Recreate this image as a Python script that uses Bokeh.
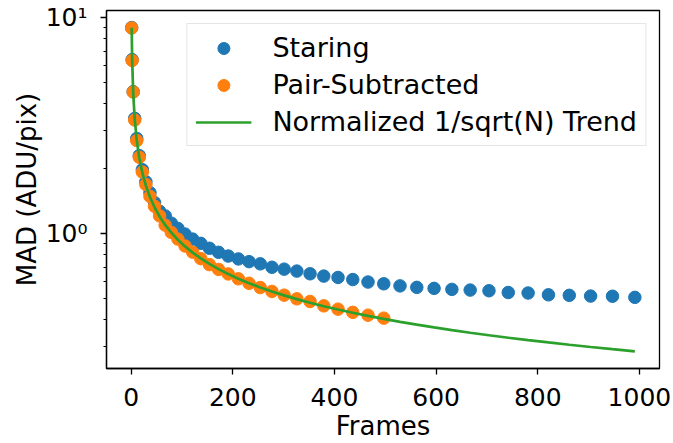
import numpy as np
from bokeh.plotting import figure
from bokeh.models import Range1d, FixedTicker, CustomJSTickFormatter
from bokeh.embed import file_html
from bokeh.resources import INLINE

# Frame counts (x positions of the points)
frames = [1, 2, 4, 7, 11, 16, 22, 29, 37, 46, 56, 67, 79, 92, 106, 121, 137,
          154, 172, 191, 211, 232, 254, 277, 301, 326, 352, 379, 407, 436, 466,
          497, 529, 562, 596, 631, 667, 704, 742, 781, 821, 862, 904, 947, 991]

# Staring MAD values
staring = [9.0, 6.4, 4.55, 3.42, 2.76, 2.3, 1.98, 1.74, 1.55, 1.394, 1.27,
           1.21, 1.12, 1.059, 0.997, 0.945, 0.903, 0.857, 0.821, 0.789, 0.765,
           0.743, 0.726, 0.700, 0.686, 0.672, 0.653, 0.637, 0.628, 0.614, 0.598,
           0.587, 0.574, 0.565, 0.559, 0.553, 0.549, 0.545, 0.535, 0.532, 0.522,
           0.519, 0.515, 0.514, 0.508]

# Pair-subtracted MAD values (first 32 frame counts)
pair_frames = frames[:32]
pair = [8.96, 6.34, 4.53, 3.36, 2.70, 2.26, 1.93, 1.69, 1.49, 1.34, 1.21,
        1.096, 1.015, 0.945, 0.878, 0.822, 0.767, 0.72, 0.684, 0.652, 0.619,
        0.59, 0.564, 0.541, 0.52, 0.50, 0.486, 0.464, 0.448, 0.433, 0.42, 0.407]

# Normalized 1/sqrt(N) trend, normalized to the first value
trend_norm = 9.0
trend = [trend_norm / np.sqrt(f) for f in frames]

x_ticks = [0, 200, 400, 600, 800, 1000]
y_major = [1, 10]
y_minor = [0.3, 0.4, 0.5, 0.6, 0.7, 0.8, 0.9, 2, 3, 4, 5, 6, 7, 8, 9]

FONT = "DejaVu Sans"

p = figure(width=673, height=443, y_axis_type="log",
           x_range=Range1d(-48.5, 1039.5), y_range=Range1d(0.238, 10.8),
           output_backend="svg", toolbar_location=None,
           min_border_left=106, min_border_right=14, min_border_top=10,
           min_border_bottom=73)

p.grid.visible = False
p.outline_line_color = "black"
p.outline_line_width = 1.3
p.background_fill_color = "white"
p.border_fill_color = "white"

p.scatter(frames, staring, size=12.5, color="#1f77b4", legend_label="Staring")
p.scatter(pair_frames, pair, size=12.5, color="#ff7f0e", legend_label="Pair-Subtracted")
p.line(frames, trend, line_width=2.7, color="#2ca02c",
       legend_label="Normalized 1/sqrt(N) Trend")

p.xaxis.ticker = FixedTicker(ticks=x_ticks, minor_ticks=[])
p.yaxis.ticker = FixedTicker(ticks=y_major, minor_ticks=y_minor)
p.yaxis.formatter = CustomJSTickFormatter(code="""
    if (tick >= 5) { return "10\u00b9"; }
    return "10\u2070";
""")

for ax in (p.xaxis, p.yaxis):
    ax.axis_line_color = "black"
    ax.axis_line_width = 1.3
    ax.major_tick_line_color = "black"
    ax.major_tick_line_width = 1.3
    ax.minor_tick_line_color = "black"
    ax.minor_tick_line_width = 1.0
    ax.major_tick_in = 0
    ax.major_tick_out = 6
    ax.minor_tick_in = 0
    ax.minor_tick_out = 3
    ax.major_label_text_font = FONT
    ax.major_label_text_font_size = "25px"
    ax.major_label_text_color = "black"
    ax.axis_label_text_font = FONT
    ax.axis_label_text_font_size = "26px"
    ax.axis_label_text_font_style = "normal"
    ax.axis_label_text_color = "black"

p.xaxis.axis_label = "Frames"
p.yaxis.axis_label = "MAD (ADU/pix)"
p.xaxis.major_label_standoff = 13
p.yaxis.major_label_standoff = 13
p.xaxis.axis_label_standoff = 2
p.yaxis.axis_label_standoff = 1

lg = p.legend[0]
lg.location = "top_right"
lg.margin = 13
lg.padding = 8
lg.spacing = 6
lg.glyph_width = 56
lg.glyph_height = 30
lg.label_height = 30
lg.label_standoff = 21
lg.label_text_font = FONT
lg.label_text_font_size = "27px"
lg.label_text_color = "black"
lg.border_line_color = "#cccccc"
lg.border_line_width = 1
lg.background_fill_alpha = 0.8

open("out.html", "w").write(file_html(p, INLINE))
